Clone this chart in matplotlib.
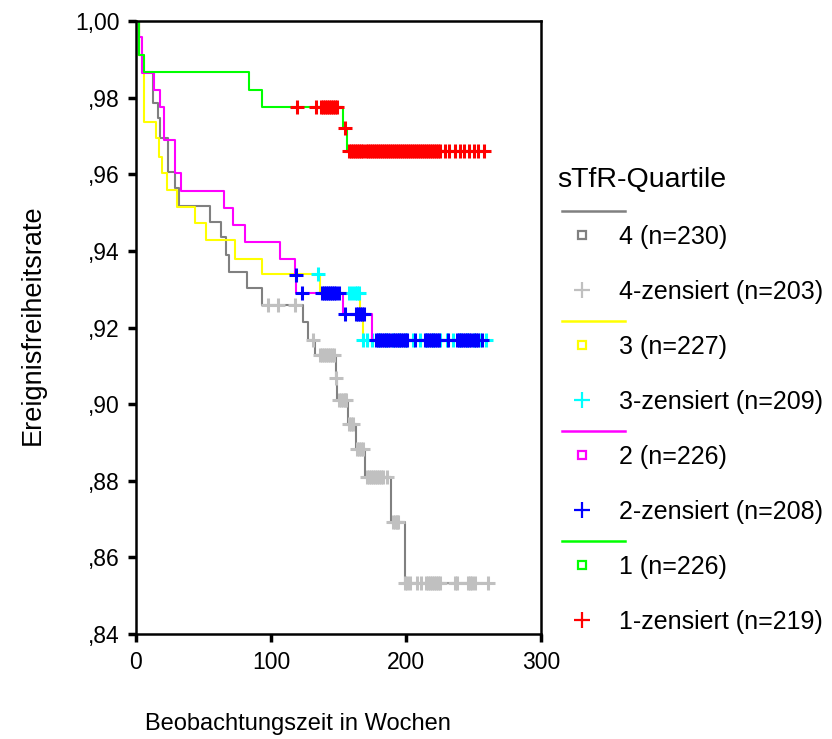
import numpy as np
import matplotlib
matplotlib.use("Agg")
import matplotlib.pyplot as plt

plt.rcParams["font.family"] = ["Liberation Sans", "DejaVu Sans"]

# Kaplan-Meier step curves (time in weeks, survival from that time on)
t4 = [0, 2.5, 5.5, 12.3, 16.3, 18, 24, 28.7, 31.6, 54.5, 63, 67, 69, 82.5, 93, 124, 127.6,
      132.6, 148, 149, 157, 163, 169.6, 188.6, 199]
s4 = [1.0, 0.9911, 0.9868, 0.9785, 0.9746, 0.9694, 0.9607, 0.9563, 0.9517, 0.9476, 0.9435,
      0.9389, 0.9345, 0.9302, 0.9258, 0.9215, 0.9167, 0.9128, 0.9067, 0.901, 0.8948, 0.8884,
      0.881, 0.8693, 0.8534]
c4 = [98, 105.4, 117.8, 131, 136, 137.5, 139, 140.5, 142, 143.5, 145, 146.5, 148.5, 150, 151.5,
      153, 154.5, 155.5, 158, 159.5, 161, 164, 165.5, 167, 168, 171, 172.5, 174, 175.5, 177,
      178.5, 180, 181.5, 183, 186, 190, 191.5, 193, 194, 199, 201, 203, 208, 211, 215, 216.5,
      218, 219.5, 221, 222.5, 224, 225.5, 236, 238, 246, 247.5, 249, 251, 261]

t3 = [0, 2.5, 6, 14.8, 16.8, 19, 23, 30.4, 44, 52, 73, 93, 136, 166, 168]
s3 = [1.0, 0.991, 0.9737, 0.9694, 0.9646, 0.9602, 0.956, 0.9514, 0.9472, 0.9428, 0.938,
      0.9339, 0.9291, 0.9234, 0.9167]
c3 = [135, 158, 160, 162, 164, 165.5, 168, 171, 175, 180, 185, 190, 195, 200, 205, 210, 215,
      220, 225, 230, 235, 240, 245, 250, 255, 259]

t2 = [0, 2.5, 4.5, 13, 18, 20.5, 28.6, 33.6, 65, 72, 80.7, 106.7, 117.8, 118.6, 153.6, 174.6]
s2 = [1.0, 0.9959, 0.9863, 0.982, 0.9776, 0.9689, 0.9604, 0.9556, 0.9513, 0.9467, 0.9424,
      0.938, 0.9337, 0.9291, 0.9234, 0.9167]
c2 = [118.2, 122.7, 138, 139.5, 141, 142.5, 144, 145.5, 147, 148.5, 150, 155, 163, 164.5, 166,
      167.5, 169, 178, 179.5, 181, 182.5, 184, 185.5, 187, 188.5, 190, 191.5, 193, 194.5, 196,
      197.5, 199, 200.5, 207, 214, 215.5, 217, 218.5, 220, 221.5, 223, 224.5, 231, 238, 239.5,
      241, 242.5, 244, 245.5, 247, 248.5, 250, 251.5, 253, 256]

t1 = [0, 2.5, 5.7, 84, 93, 153.6, 156]
s1 = [1.0, 0.9911, 0.9868, 0.982, 0.9776, 0.972, 0.966]
c1 = [119, 133, 137, 138.5, 140, 141.5, 143, 144.5, 146, 147.5, 149, 155, 158, 159.5, 161,
      162.5, 164, 165.5, 167, 168.5, 170, 171.5, 173, 174.5, 176, 177.5, 179, 180.5, 182, 183.5,
      185, 186.5, 188, 189.5, 191, 192.5, 194, 195.5, 197, 198.5, 200, 201.5, 203, 204.5, 206,
      207.5, 209, 210.5, 212, 213.5, 215, 216.5, 218, 219.5, 221, 222.5, 224, 225.5, 229, 232,
      236, 240, 243, 247, 250, 253, 258]

groups = ["4", "3", "2", "1"]
n_total = [230, 227, 226, 226]
n_cens = [203, 209, 208, 219]
line_colors = ["#808080", "#ffff00", "#ff00ff", "#00ff00"]
cens_colors = ["#c0c0c0", "#00ffff", "#0000ff", "#ff0000"]

yticks = [0.84, 0.86, 0.88, 0.90, 0.92, 0.94, 0.96, 0.98, 1.00]
ytick_labels = [",84", ",86", ",88", ",90", ",92", ",94", ",96", ",98", "1,00"]
xticks = [0, 100, 200, 300]

curves = [(t4, s4, c4), (t3, s3, c3), (t2, s2, c2), (t1, s1, c1)]

fig = plt.figure(figsize=(8.32, 7.39), dpi=100)
ax = fig.add_axes([136 / 832, 1 - 634 / 739, (541 - 136) / 832, (634 - 21) / 739])

for (t, s, c), lc, cc in zip(curves, line_colors, cens_colors):
    t = np.array(t, dtype=float)
    s = np.array(s, dtype=float)
    c = np.array(c, dtype=float)
    tt = np.append(t, c.max())
    ss = np.append(s, s[-1])
    ax.step(tt, ss, where="post", color=lc, lw=1.5)
    cy = s[np.searchsorted(t, c, side="right") - 1]
    ax.plot(c, cy, ls="none", marker="+", color=cc, ms=9.5, mew=2.2)

ax.set_xlim(0, 300)
ax.set_ylim(0.84, 1.00)
ax.set_xticks(xticks)
ax.set_xticklabels([str(x) for x in xticks])
ax.set_yticks(yticks)
ax.set_yticklabels(ytick_labels)
ax.tick_params(direction="out", length=6, width=2.5, labelsize=16.5, pad=6)
for sp in ax.spines.values():
    sp.set_linewidth(1.8)

fig.text(298 / 832, 1 - 724 / 739, "Beobachtungszeit in Wochen", fontsize=17,
         ha="center", va="center")
fig.text(33 / 832, 1 - 325 / 739, "Ereignisfreiheitsrate", fontsize=19.5,
         ha="center", va="center", rotation=90)

# legend drawn in pixel coordinates of the figure
lg = fig.add_axes([0, 0, 1, 1])
lg.set_xlim(0, 832)
lg.set_ylim(739, 0)
lg.axis("off")
lg.text(557, 180, "sTfR-Quartile", fontsize=20.5, va="center", ha="left")
for i, g in enumerate(groups):
    y0 = 211 + i * 110
    lg.plot([562, 625], [y0, y0], color=line_colors[i], lw=1.8)
    lg.plot([582], [y0 + 24], marker="s", ms=6, mfc="none", mec=line_colors[i], mew=1.6)
    lg.text(619, y0 + 26, f"{g} (n={n_total[i]})", fontsize=18, va="center", ha="left")
    lg.plot([582], [y0 + 79], marker="+", ms=12, color=cens_colors[i], mew=1.6)
    lg.text(619, y0 + 81, f"{g}-zensiert (n={n_cens[i]})", fontsize=18, va="center", ha="left")

fig.savefig("out.png", dpi=100)
